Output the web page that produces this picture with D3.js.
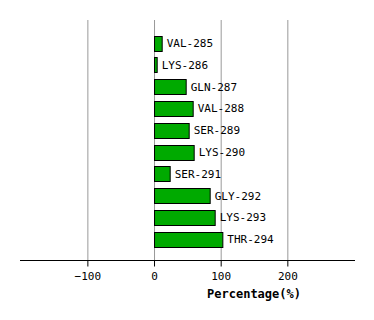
<!DOCTYPE html>
<html>
<head>
<meta charset="utf-8">
<script src="https://cdn.jsdelivr.net/npm/d3@7"></script>
<style>
  body { margin: 0; background: #fff; }
  text { font-family: "DejaVu Sans Mono", monospace; }
</style>
</head>
<body>
<svg width="374" height="320"></svg>
<script>
var residues = ["VAL-285", "LYS-286", "GLN-287", "VAL-288", "SER-289",
                "LYS-290", "SER-291", "GLY-292", "LYS-293", "THR-294"];
var percent = [11.5, 4, 47.5, 58, 52, 59.5, 23.5, 83.5, 91, 102.5];
var ticks = [-100, 0, 100, 200];

var svg = d3.select("svg");

var x = d3.scaleLinear().domain([-200, 300]).range([20.7, 354]);
var y = d3.scaleBand()
  .domain(residues)
  .range([32.3, 250.3])
  .paddingInner(0.31)
  .paddingOuter(0.155);

// grid lines
svg.selectAll(".grid")
  .data(ticks)
  .enter()
  .append("line")
  .attr("class", "grid")
  .attr("x1", function(d) { return x(d) + 0.5; })
  .attr("x2", function(d) { return x(d) + 0.5; })
  .attr("y1", 20)
  .attr("y2", 260)
  .attr("stroke", "#999")
  .attr("stroke-width", 1);

// bars
svg.selectAll(".bar")
  .data(percent)
  .enter()
  .append("rect")
  .attr("class", "bar")
  .attr("x", x(0) + 0.5)
  .attr("y", function(d, i) { return Math.round(y(residues[i])) + 0.5; })
  .attr("width", function(d) { return x(d) - x(0); })
  .attr("height", Math.round(y.bandwidth()))
  .attr("fill", "#00aa00")
  .attr("stroke", "#000")
  .attr("stroke-width", 1);

// labels
svg.selectAll(".label")
  .data(percent)
  .enter()
  .append("text")
  .attr("class", "label")
  .attr("x", function(d) { return x(d) + 5; })
  .attr("y", function(d, i) { return y(residues[i]) + y.bandwidth() / 2; })
  .attr("dy", "0.35em")
  .style("font-size", "11px")
  .text(function(d, i) { return residues[i]; });

// x axis
var axis = svg.append("g")
  .attr("transform", "translate(0,260.5)")
  .call(d3.axisBottom(x).tickValues(ticks).tickSize(6).tickPadding(6)
    .tickFormat(function(d) { return d < 0 ? "\u2212" + (-d) : d; }));
axis.select(".domain").attr("d", "M20,0H355").attr("stroke", "#000");
axis.selectAll(".tick line").attr("stroke", "#000");
axis.selectAll(".tick text")
  .style("font-size", "11px")
  .style("font-family", "DejaVu Sans Mono, monospace")
  .attr("fill", "#000");

svg.append("text")
  .attr("x", 254)
  .attr("y", 298)
  .attr("text-anchor", "middle")
  .style("font-size", "12px")
  .style("font-weight", "bold")
  .text("Percentage(%)");
</script>
</body>
</html>
